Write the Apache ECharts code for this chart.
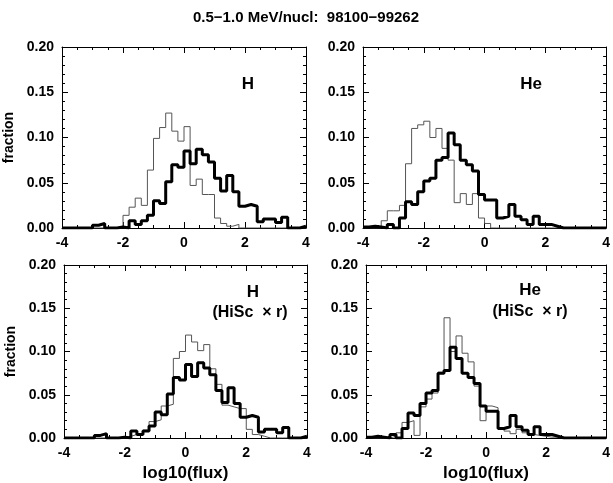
<!DOCTYPE html>
<html>
<head>
<meta charset="utf-8">
<script src="https://cdn.jsdelivr.net/npm/echarts@6/dist/echarts.min.js"></script>
<style>
  html, body { margin: 0; padding: 0; background: #fff; }
  #chart { width: 613px; height: 483px; }
</style>
</head>
<body>
<div id="chart"></div>
<script>
// left edge of each 0.2 wide log10(flux) bin
var binStart = [-4.0, -3.8, -3.6, -3.4, -3.2, -3.0, -2.8, -2.6, -2.4, -2.2,
                -2.0, -1.8, -1.6, -1.4, -1.2, -1.0, -0.8, -0.6, -0.4, -0.2,
                 0.0,  0.2,  0.4,  0.6,  0.8,  1.0,  1.2,  1.4,  1.6,  1.8,
                 2.0,  2.2,  2.4,  2.6,  2.8,  3.0,  3.2,  3.4,  3.6,  3.8];
var binEnd = 4.0;

// thick histograms (same in top and bottom panels)
var hFlux = [0, 0, 0, 0, 0, 0.003, 0.005, 0, 0, 0.001,
             0, 0.008, 0.004, 0.008, 0.014, 0.030, 0.027, 0.051, 0.070, 0.067,
             0.085, 0.071, 0.087, 0.081, 0.073, 0.055, 0.041, 0.058, 0.040, 0.024,
             0.026, 0.024, 0.007, 0.010, 0.010, 0.006, 0.012, 0, 0, 0.002];
var heFlux = [0.001, 0.002, 0.001, 0, 0.004, 0, 0.011, 0.029, 0.026, 0.040,
              0.052, 0.055, 0.075, 0.078, 0.105, 0.092, 0.075, 0.070, 0.063, 0.037,
              0.031, 0.031, 0.011, 0.013, 0.026, 0.013, 0.009, 0.004, 0.013, 0.004,
              0.004, 0.002, 0, 0, 0, 0, 0, 0, 0, 0];

// thin histograms, top row
var hTop = [0, 0, 0, 0, 0, 0, 0, 0, 0, 0.002,
            0.014, 0.023, 0.033, 0.025, 0.064, 0.099, 0.111, 0.127, 0.107, 0.096,
            0.112, 0.047, 0.054, 0.037, 0.037, 0.011, 0.005, 0.002, 0.004, 0,
            0, 0, 0, 0, 0, 0, 0, 0, 0, 0];
var heTop = [0, 0, 0, 0.008, 0.019, 0.019, 0.025, 0.071, 0.110, 0.114,
             0.118, 0.100, 0.110, 0.088, 0.075, 0.028, 0.038, 0.026, 0.038, 0.011,
             0.005, 0, 0, 0, 0, 0, 0, 0, 0, 0,
             0, 0, 0, 0, 0, 0, 0, 0, 0, 0];

// thin histograms, bottom row (HiSc x r)
var hHiSc = [0, 0, 0, 0, 0, 0, 0, 0, 0, 0,
             0.002, 0.004, 0.004, 0.009, 0.019, 0.021, 0.037, 0.039, 0.092, 0.100,
             0.119, 0.111, 0.101, 0.108, 0.080, 0.062, 0.038, 0.036, 0.034, 0.034,
             0.010, 0.004, 0.002, 0, 0, 0, 0, 0, 0, 0];
var heHiSc = [0, 0, 0, 0, 0.002, 0.006, 0.018, 0.020, 0.003, 0.036,
              0.045, 0.052, 0.076, 0.139, 0.100, 0.118, 0.098, 0.088, 0.060, 0.020,
              0.037, 0.035, 0.012, 0.008, 0.005, 0.010, 0.006, 0.004, 0.003, 0.002,
              0.001, 0.001, 0, 0, 0, 0, 0, 0, 0, 0];

var xTicks = [-4, 4, 2];          // min, max, interval
var yTicks = [0, 0.2, 0.05];

var font = '"Liberation Sans", Arial, sans-serif';

var panels = [
    {left: 62,  top: 47,  width: 244, height: 181, thick: hFlux,  thin: hTop,   yName: 'fraction', xName: ''},
    {left: 363, top: 47,  width: 245, height: 181, thick: heFlux, thin: heTop,  yName: '',         xName: ''},
    {left: 64,  top: 265, width: 243, height: 179, thick: hFlux,  thin: hHiSc,  yName: 'fraction', xName: 'log10(flux)'},
    {left: 366, top: 265, width: 244, height: 179, thick: heFlux, thin: heHiSc, yName: '',         xName: 'log10(flux)'}
];

function steps(vals) {
    var pts = binStart.map(function (x, i) { return [x, vals[i]]; });
    pts.push([binEnd, vals[vals.length - 1]]);
    return pts;
}

var grids = [], xAxes = [], yAxes = [], series = [];
panels.forEach(function (p, k) {
    grids.push({left: p.left, top: p.top, width: p.width, height: p.height});
    var tick = {inside: true, length: 6, lineStyle: {color: '#000'}};
    var line = {show: true, onZero: false, lineStyle: {color: '#000', width: 1}};
    xAxes.push({
        gridIndex: k, type: 'value', min: xTicks[0], max: xTicks[1], interval: xTicks[2],
        axisLine: line, axisTick: tick,
        minorTick: {show: true, splitNumber: 4, length: 3, lineStyle: {color: '#000'}},
        splitLine: {show: false},
        axisLabel: {color: '#000', fontFamily: font, fontWeight: 'bold', fontSize: 14, margin: 8},
        name: p.xName, nameLocation: 'middle', nameGap: 27,
        nameTextStyle: {color: '#000', fontFamily: font, fontWeight: 'bold', fontSize: 17}
    });
    xAxes.push({
        gridIndex: k, type: 'value', position: 'top', min: xTicks[0], max: xTicks[1], interval: xTicks[2],
        axisLine: line, axisTick: tick,
        minorTick: {show: true, splitNumber: 4, length: 3, lineStyle: {color: '#000'}},
        splitLine: {show: false}, axisLabel: {show: false}
    });
    yAxes.push({
        gridIndex: k, type: 'value', min: yTicks[0], max: yTicks[1], interval: yTicks[2],
        axisLine: line, axisTick: tick,
        minorTick: {show: true, splitNumber: 5, length: 3, lineStyle: {color: '#000'}},
        splitLine: {show: false},
        axisLabel: {color: '#000', fontFamily: font, fontWeight: 'bold', fontSize: 14, margin: 8,
                    formatter: function (v) { return v.toFixed(2); }},
        name: p.yName, nameLocation: 'middle', nameGap: 46, nameRotate: 90,
        nameTextStyle: {color: '#000', fontFamily: font, fontWeight: 'bold', fontSize: 14}
    });
    yAxes.push({
        gridIndex: k, type: 'value', position: 'right', min: yTicks[0], max: yTicks[1], interval: yTicks[2],
        axisLine: line, axisTick: tick,
        minorTick: {show: true, splitNumber: 5, length: 3, lineStyle: {color: '#000'}},
        splitLine: {show: false}, axisLabel: {show: false}
    });
    series.push({
        type: 'line', xAxisIndex: 2 * k, yAxisIndex: 2 * k, step: 'end', symbol: 'none',
        lineStyle: {color: '#555', width: 1}, data: steps(p.thin), z: 2
    });
    series.push({
        type: 'line', xAxisIndex: 2 * k, yAxisIndex: 2 * k, step: 'end', symbol: 'none',
        lineStyle: {color: '#000', width: 3}, data: steps(p.thick), z: 3
    });
});

function label(text, x, y, size) {
    return {
        type: 'text', x: x, y: y, z: 10,
        style: {text: text, fill: '#000', font: 'bold ' + size + 'px ' + font,
                textAlign: 'center', textVerticalAlign: 'middle', align: 'center', verticalAlign: 'middle'}
    };
}

var myChart = echarts.init(document.getElementById('chart'));
myChart.setOption({
    animation: false,
    grid: grids,
    xAxis: xAxes,
    yAxis: yAxes,
    series: series,
    graphic: [
        label('0.5\u22121.0 MeV/nucl:  98100\u221299262', 306, 18, 15),
        label('H', 248, 84, 17),
        label('He', 531, 84, 17),
        label('H', 253, 292, 17),
        label('(HiSc  \u00d7 r)', 250, 313, 16),
        label('He', 530, 290, 17),
        label('(HiSc  \u00d7 r)', 530, 312, 16)
    ]
});
</script>
</body>
</html>
